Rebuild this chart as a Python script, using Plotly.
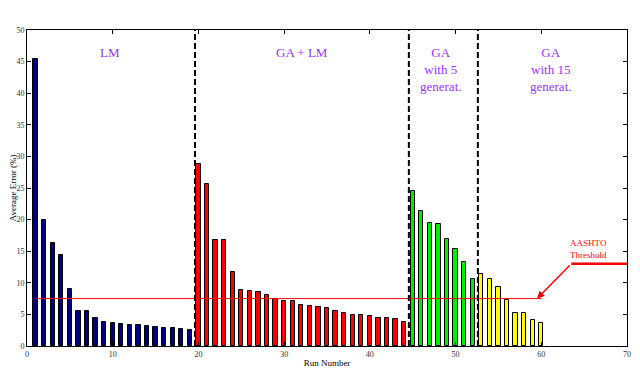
import plotly.graph_objects as go

# ---- data ----
lm_runs = list(range(1, 20))
lm_err = [45.4, 20.0, 16.3, 14.4, 9.0, 5.6, 5.6, 4.5, 3.8, 3.7, 3.5, 3.3, 3.3, 3.1, 3.0, 2.9, 2.8, 2.7, 2.6]

galm_runs = list(range(20, 45))
galm_err = [28.75, 25.7, 16.7, 16.7, 11.7, 8.8, 8.65, 8.5, 8.0, 7.5, 7.07, 7.07, 6.43, 6.4, 6.1,
            5.95, 5.5, 5.3, 4.85, 4.85, 4.7, 4.38, 4.38, 4.2, 3.75]

ga5_runs = list(range(45, 53))
ga5_err = [24.5, 21.3, 19.45, 19.25, 16.9, 15.3, 13.25, 10.6]

ga15_runs = list(range(53, 61))
ga15_err = [11.45, 10.6, 9.28, 7.22, 5.17, 5.17, 4.06, 3.6]

dividers = [19.6, 44.55, 52.6]
threshold = 7.5
threshold_span = [1.0, 60.0]

group_labels = ["LM", "GA + LM", "GA<br>with 5<br>generat.", "GA<br>with 15<br>generat."]
group_label_x = [9.7, 32.1, 48.3, 61.1]

x_ticks = [0, 10, 20, 30, 40, 50, 60, 70]
y_ticks = [0, 5, 10, 15, 20, 25, 30, 35, 40, 45, 50]

SERIF = "Liberation Serif, Times New Roman, serif"
PURPLE = "#9933FF"

fig = go.Figure()

def add_bars(xs, ys, color):
    fig.add_trace(go.Bar(x=xs, y=ys, width=0.5,
                         marker=dict(color=color, line=dict(color="black", width=1)),
                         showlegend=False))

add_bars(lm_runs, lm_err, "#000080")
add_bars(galm_runs, galm_err, "#FF0000")
add_bars(ga5_runs, ga5_err, "#00EE00")
add_bars(ga15_runs, ga15_err, "#FFFF00")

# threshold line
fig.add_trace(go.Scatter(x=threshold_span, y=[threshold, threshold], mode="lines",
                         line=dict(color="#FF0000", width=1), showlegend=False,
                         hoverinfo="skip"))

# dividers
for d in dividers:
    fig.add_shape(type="line", x0=d, x1=d, y0=0, y1=50, xref="x", yref="y",
                  line=dict(color="black", width=2, dash="6px,3px"))

# thick leader line to label
fig.add_shape(type="line", x0=63.5, x1=70, y0=13, y1=13, xref="x", yref="y",
              line=dict(color="#FF0000", width=2.5))
fig.add_annotation(x=59.5, y=threshold, ax=63.5, ay=13, xref="x", yref="y",
                   axref="x", ayref="y", showarrow=True, arrowhead=2, arrowsize=1,
                   arrowwidth=1.5, arrowcolor="#FF0000", text="")
fig.add_annotation(x=65.5, y=15.4, xref="x", yref="y", text="AASHTO<br>Threshold",
                   showarrow=False, font=dict(family=SERIF, size=9, color="#FF0000"))

for lbl, lx in zip(group_labels, group_label_x):
    fig.add_annotation(x=lx, y=48.0, xref="x", yref="y", text=lbl, showarrow=False,
                       yanchor="top", font=dict(family=SERIF, size=13, color=PURPLE))

axis_common = dict(showgrid=False, zeroline=False, showline=True, linecolor="black",
                   linewidth=1, mirror="ticks", ticks="inside", ticklen=4,
                   tickcolor="black", automargin=False,
                   tickfont=dict(family=SERIF, size=8, color="#333333"))

fig.update_xaxes(range=[0, 70], tickvals=x_ticks,
                 title=dict(text="Run Number", font=dict(family=SERIF, size=9, color="black"),
                            standoff=2),
                 **axis_common)
fig.update_yaxes(range=[0, 50], tickvals=y_ticks,
                 title=dict(text="Average Error (%)", font=dict(family=SERIF, size=9, color="black"),
                            standoff=2),
                 **axis_common)

fig.update_layout(width=632, height=368, margin=dict(l=19, r=13, t=22, b=30),
                  plot_bgcolor="white", paper_bgcolor="white", bargap=0)

fig.write_html("out.html")
